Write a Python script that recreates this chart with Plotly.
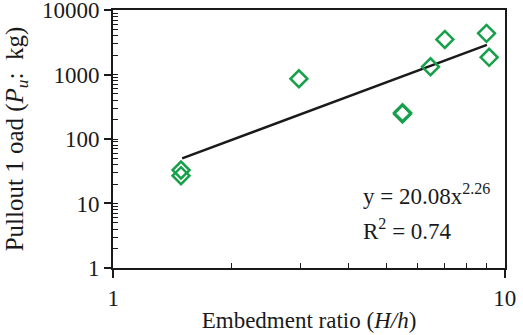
import plotly.graph_objects as go

# Measured data (embedment ratio vs pullout load)
x_data = [1.49, 1.49, 2.98, 5.48, 5.48, 6.46, 7.03, 8.98, 9.12]
y_data = [33, 27, 860, 255, 245, 1320, 3500, 4350, 1850]

# Power trend line as drawn
x_fit = [1.5, 2.0, 2.5, 3.0, 4.0, 5.0, 6.0, 7.0, 8.0, 9.0]
y_fit = [50, 96, 159, 240, 460, 763, 1152, 1632, 2207, 2878]

x_ticks = [1, 10]
y_ticks = [1, 10, 100, 1000, 10000]

# tick mark positions (inner ticks: majors + minors 2..9 per decade)
x_inner = [1] + [m for m in range(2, 10)] + [10]
y_inner = [m * 10 ** d for d in range(4) for m in range(1, 10)] + [10000]

FONT = "Liberation Serif, Times New Roman, serif"
GREEN = "#16a04a"
INK = "#1a1a1a"
RX = [-0.0005, 1.0005]
RY = [-0.001, 4.001]

fig = go.Figure()
fig.add_trace(go.Scatter(x=x_fit, y=y_fit, mode="lines",
                         line=dict(color=INK, width=2.5), showlegend=False))
fig.add_trace(go.Scatter(x=x_data, y=y_data, mode="markers",
                         marker=dict(symbol="diamond-open", size=13, color=GREEN,
                                     line=dict(width=2.5, color=GREEN)),
                         showlegend=False))
fig.add_trace(go.Scatter(x=[1], y=[1], yaxis="y2", xaxis="x2", mode="markers",
                         marker=dict(opacity=0), showlegend=False, hoverinfo="skip"))

fig.update_layout(
    width=523, height=335,
    margin=dict(l=113, r=18, t=10, b=67, autoexpand=False),
    paper_bgcolor="white", plot_bgcolor="white",
    font=dict(family=FONT, size=23, color=INK),
    xaxis=dict(type="log", range=RX, tickvals=x_ticks, ticktext=[str(v) for v in x_ticks],
               ticks="outside", ticklen=8, tickwidth=1.5, tickcolor=INK,
               showline=True, linecolor=INK, linewidth=2, mirror=True, automargin=False,
               showgrid=False, zeroline=False, ticklabeloverflow="allow",
               title=dict(text="Embedment ratio (<i>H/h</i>)", standoff=2,
                          font=dict(size=23))),
    yaxis=dict(type="log", range=RY, tickvals=y_ticks, ticktext=[str(v) for v in y_ticks],
               ticks="outside", ticklen=7, tickwidth=1.5, tickcolor=INK,
               showline=True, linecolor=INK, linewidth=2, mirror=True, automargin=False,
               showgrid=False, zeroline=False, ticklabeloverflow="allow",
               title=dict(text="Pullout 1 oad (<i>P<sub>u</sub></i>:  kg)", standoff=11,
                          font=dict(size=25))),
    xaxis2=dict(type="log", range=RX, overlaying="x", showline=False, showgrid=False,
                zeroline=False, showticklabels=False, ticks="inside", ticklen=5,
                tickvals=x_inner, tickwidth=1.3, tickcolor=INK, automargin=False),
    yaxis2=dict(type="log", range=RY, overlaying="y", showline=False, showgrid=False,
                zeroline=False, showticklabels=False, ticks="inside", ticklen=5,
                tickvals=y_inner, tickwidth=1.3, tickcolor=INK, automargin=False),
)

fig.add_annotation(xref="paper", yref="paper", x=0.633, y=0.285, xanchor="left", yanchor="middle",
                   text="y = 20.08x<sup>2.26</sup>", showarrow=False,
                   font=dict(family=FONT, size=23, color=INK))
fig.add_annotation(xref="paper", yref="paper", x=0.633, y=0.148, xanchor="left", yanchor="middle",
                   text="R<sup>2</sup> = 0.74", showarrow=False,
                   font=dict(family=FONT, size=23, color=INK))

fig.write_html("out.html")
